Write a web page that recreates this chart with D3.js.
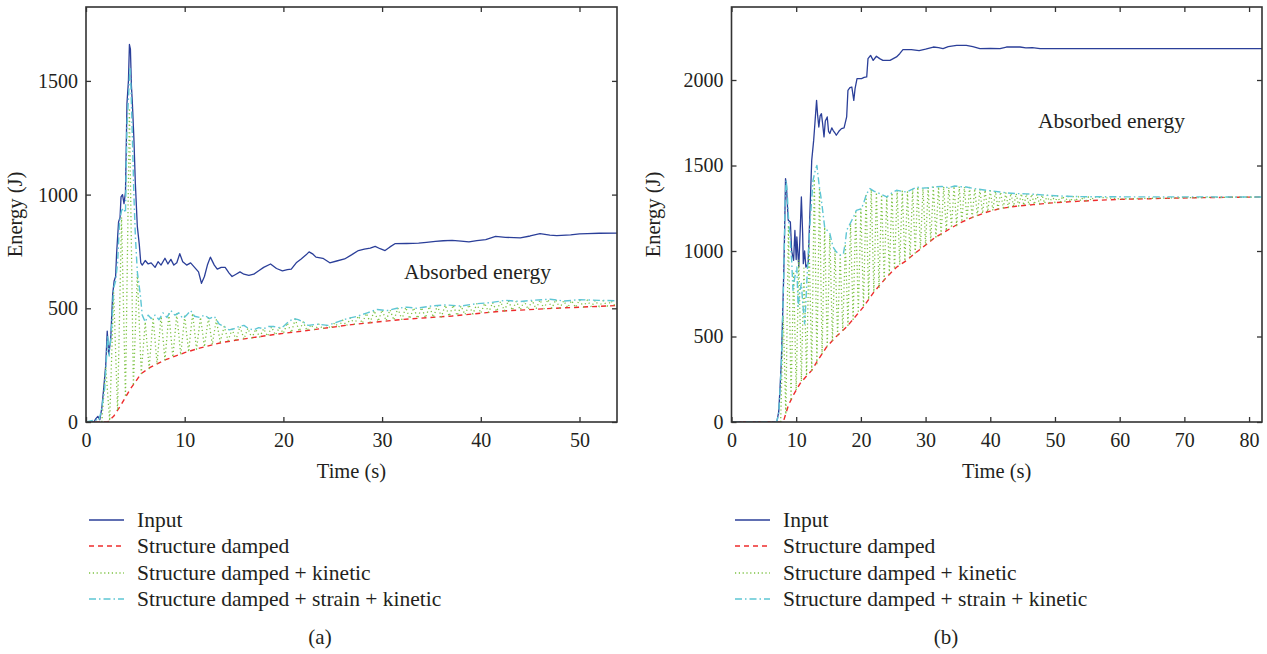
<!DOCTYPE html>
<html><head><meta charset="utf-8">
<script src="https://cdn.jsdelivr.net/npm/d3@7"></script>
<style>
body{margin:0;background:#fff}
svg{display:block}
text{font-family:"Liberation Serif","Times New Roman",serif;fill:#231f20}
</style>
</head><body>
<svg id="chart" width="1267" height="654"></svg>
<script>
// ---------------- DATA ----------------
const seriesNames = ["Input", "Structure damped", "Structure damped + kinetic", "Structure damped + strain + kinetic"];
const panelLabels = ["(a)", "(b)"];
const annotation = "Absorbed energy";
const xTitle = "Time (s)";
const yTitle = "Energy (J)";

const xTicksA = [0, 10, 20, 30, 40, 50];
const yTicksA = [0, 500, 1000, 1500];
const xTicksB = [0, 10, 20, 30, 40, 50, 60, 70, 80];
const yTicksB = [0, 500, 1000, 1500, 2000];
const xMaxA = 53.8, yMaxA = 1825;
const xMaxB = 82, yMaxB = 2427;

// (a) Input energy [time s, energy J]
const inputA = [[0,0],[0.8,0],[1.0,15],[1.2,25],[1.4,10],[1.6,60],[1.8,150],[2.0,250],[2.15,400],[2.3,300],[2.5,360],[2.7,560],[2.85,620],[3.0,640],[3.1,740],[3.3,880],[3.45,900],[3.55,990],[3.7,1000],[3.85,960],[4.0,1010],[4.15,1400],[4.3,1500],[4.4,1660],[4.5,1640],[4.6,1480],[4.7,1400],[4.85,1250],[5.0,1050],[5.2,860],[5.4,780],[5.55,700],[5.7,690],[6.0,710],[6.3,695],[6.6,700],[7.0,680],[7.3,705],[7.6,690],[8.0,720],[8.3,695],[8.6,715],[8.9,690],[9.2,700],[9.5,740],[9.8,705],[10.2,690],[10.6,700],[11.0,680],[11.4,660],[11.7,610],[12.0,640],[12.3,690],[12.6,725],[13.0,690],[13.3,672],[13.7,680],[14.1,680],[14.5,655],[14.8,640],[15.2,650],[15.6,660],[16.0,650],[16.5,645],[17.0,650],[17.5,665],[18.0,680],[18.7,695],[19.3,675],[19.9,665],[20.4,670],[20.8,672],[21.3,700],[21.8,717],[22.3,735],[22.6,748],[23.0,738],[23.3,725],[24.0,720],[24.7,700],[25.4,708],[26.2,717],[26.9,735],[27.6,754],[28.2,760],[28.8,765],[29.3,772],[29.8,762],[30.3,754],[30.8,770],[31.3,784],[32.5,785],[33.7,787],[34.5,790],[35.4,794],[36.2,797],[37.1,799],[38.0,795],[38.8,792],[39.6,798],[40.5,802],[41.5,816],[42.5,812],[44.0,810],[45.0,818],[46.0,828],[47.0,822],[47.7,820],[49.1,823],[50.0,827],[50.8,828],[52.0,830],[53.8,831]];
// (a) Structure damped
const dampedA = [[0,0],[2.2,0],[2.8,25],[3.5,72],[4.5,146],[5.6,213],[6.5,240],[8.0,273],[10.0,305],[11.5,325],[13.8,350],[16.7,370],[20.0,390],[21.8,399],[26.9,428],[32.0,451],[37.1,466],[42.2,488],[47.4,500],[53.8,512]];
// (a) Structure damped + strain + kinetic
const strainA = [[0,0],[1.0,10],[1.3,5],[1.6,60],[1.9,150],[2.1,300],[2.2,380],[2.35,290],[2.6,420],[2.8,590],[3.0,620],[3.2,700],[3.4,880],[3.6,930],[3.8,940],[4.0,920],[4.15,1300],[4.3,1420],[4.45,1560],[4.55,1480],[4.7,1250],[4.85,1000],[5.0,820],[5.2,660],[5.5,560],[5.7,470],[6.0,440],[6.3,470],[6.6,455],[7.0,470],[7.4,450],[7.8,480],[8.2,460],[8.6,490],[9.0,470],[9.4,480],[9.8,455],[10.2,470],[10.6,490],[11.0,465],[11.5,460],[12.0,470],[12.5,455],[13.0,465],[13.5,430],[14.0,420],[14.5,405],[15.0,410],[15.5,420],[16.0,425],[16.5,410],[17.0,405],[17.5,415],[18.0,410],[18.5,420],[19.0,420],[19.5,415],[20.0,420],[20.5,440],[21.0,455],[21.5,450],[22.0,440],[22.5,425],[23.5,430],[24.5,425],[25.5,440],[26.5,455],[27.5,465],[28.5,480],[29.5,495],[30.5,490],[31.5,500],[32.5,505],[33.5,500],[35.0,510],[36.5,515],[38.0,510],[39.5,520],[41.0,525],[42.5,535],[44.0,530],[45.5,536],[47.0,540],[48.5,532],[50.0,538],[52.0,535],[53.8,533]];
// (a) Structure damped + kinetic: samples every kineticStepA s starting at kineticStartA s
const kineticStartA = 1.6, kineticStepA = 0.4;
const kineticA = [0,240,5,570,50,900,110,1380,160,650,213,440,235,460,255,465,273,475,285,475,295,465,308,478,320,460,330,458,340,450,352,420,358,408,361,420,365,412,369,408,373,410,377,418,383,416,390,436,393,452,399,440,402,428,405,430,408,426,412,436,417,448,423,458,430,466,434,478,438,490,442,493,445,493,448,500,451,504,454,502,456,503,458,508,460,512,462,514,465,514,468,510,472,515,475,520,479,522,482,525,486,530,489,534,491,531,493,532,495,535,497,537,498,539,500,538,501,533,503,534,504,537,505,536,506,535,507,534,509,533,511];

// (b) Input energy
const inputB = [[0,0],[7.0,0],[7.3,60],[7.5,197],[7.7,350],[7.9,614],[8.1,906],[8.25,1200],[8.35,1423],[8.5,1380],[8.6,1296],[8.77,1180],[9.1,1170],[9.3,1000],[9.6,946],[9.8,1120],[10.0,950],[10.1,1082],[10.4,906],[10.6,1100],[10.8,1316],[11.0,1100],[11.1,926],[11.3,1000],[11.5,906],[11.85,928],[12.1,1200],[12.4,1530],[12.7,1647],[12.9,1750],[13.15,1881],[13.3,1800],[13.5,1725],[13.7,1790],[13.9,1803],[14.1,1740],[14.3,1667],[14.5,1760],[14.8,1784],[15.0,1700],[15.2,1687],[15.5,1720],[15.7,1706],[16.0,1690],[16.2,1677],[16.6,1700],[17.0,1716],[17.4,1720],[17.8,1784],[18.0,1940],[18.3,1955],[18.6,1959],[18.9,1881],[19.1,1950],[19.4,2008],[20.1,2008],[20.5,2015],[20.9,2018],[21.1,2125],[21.5,2144],[21.9,2115],[22.4,2139],[22.9,2125],[23.4,2115],[24.5,2115],[25.5,2135],[26.0,2154],[26.5,2178],[27.8,2178],[29.0,2172],[30.0,2180],[31.2,2193],[32.0,2190],[32.7,2184],[33.5,2195],[34.8,2203],[36.3,2203],[37.3,2195],[38.4,2184],[40.0,2185],[41.5,2184],[42.5,2193],[44.6,2193],[45.5,2188],[46.5,2190],[47.7,2184],[82,2184]];
// (b) Structure damped
const dampedB = [[0,0],[8.0,0],[8.8,98],[9.6,160],[10.6,225],[11.5,265],[12.4,302],[13.5,370],[14.7,439],[16.2,500],[17.8,556],[19.0,610],[20.4,673],[22.0,760],[24.0,848],[25.5,905],[27.1,946],[28.3,985],[29.6,1023],[31.5,1080],[33.8,1131],[35.5,1168],[37.4,1199],[39.5,1228],[41.5,1248],[44.0,1262],[46.6,1271],[49.0,1280],[51.8,1287],[54.0,1292],[56.9,1297],[60.0,1302],[64.7,1306],[68.0,1309],[72.4,1312],[77.0,1314],[82,1316]];
// (b) Structure damped + strain + kinetic
const strainB = [[0,0],[7.0,0],[7.3,50],[7.5,190],[7.7,340],[7.9,600],[8.1,880],[8.3,1300],[8.45,1413],[8.6,1350],[8.8,1200],[9.0,1103],[9.3,946],[9.5,770],[9.8,850],[10.1,906],[10.3,672],[10.55,760],[10.8,810],[11.0,700],[11.3,575],[11.5,700],[11.7,868],[12.1,1140],[12.6,1413],[13.0,1480],[13.2,1500],[13.55,1384],[13.9,1296],[14.4,1140],[14.8,1120],[15.2,1103],[15.7,1023],[16.1,1000],[16.5,985],[16.9,975],[17.3,985],[17.6,1050],[17.8,1121],[18.2,1150],[18.6,1180],[19.0,1210],[19.3,1238],[20.1,1248],[20.5,1290],[20.9,1336],[21.4,1365],[22.0,1350],[22.4,1345],[23.2,1330],[24.0,1316],[24.8,1340],[25.5,1355],[26.3,1350],[27.1,1345],[27.9,1360],[28.6,1374],[29.5,1368],[30.3,1370],[31.2,1374],[32.5,1378],[33.5,1370],[34.5,1380],[35.5,1376],[36.3,1374],[37.5,1365],[38.5,1360],[39.5,1355],[40.5,1350],[41.5,1345],[42.5,1340],[44.0,1336],[45.5,1334],[46.6,1332],[48.0,1328],[50.0,1323],[51.8,1320],[54.0,1318],[57.0,1317],[82,1316]];
// (b) Structure damped + kinetic: samples every kineticStepB s starting at kineticStartB s, then a settled tail
const kineticStartB = 7.6, kineticStepB = 0.4;
const kineticB = [0,620,45,1150,125,880,185,950,238,900,270,1050,302,1420,340,1370,397,1140,444,1095,475,1000,508,975,535,1040,565,1160,600,1225,637,1245,673,1325,717,1360,760,1343,782,1330,830,1316,866,1340,895,1355,920,1350,940,1346,962,1362,988,1374,1012,1368,1035,1370,1060,1374,1082,1376,1095,1377,1118,1371,1135,1379,1148,1377,1170,1375,1182,1372,1196,1365,1206,1361,1218,1356,1229,1353,1237,1349,1245,1345,1251,1340,1254,1338,1260,1336,1263,1335,1266,1334,1269,1332,1272,1331,1274,1328,1278,1326,1281,1324,1283,1322,1285,1321,1287,1320,1289,1319,1290,1319,1292,1318,1294,1317,1295,1317];
const kineticTailB = [[60,1305],[70,1312],[82,1316]];

// ---------------- STYLE / LAYOUT ----------------
const colors = ["#2b3f99", "#ee2c2c", "#7cc242", "#5ec6d4"];
const dashes = [null, "5,4", "1.2,2.6", "7,3,1.5,3"];
const widths = [1.3, 1.4, 1.3, 1.4];

const svg = d3.select("#chart");

function kineticPoints(start, step, vals, tail) {
  const pts = vals.map((v, i) => [start + i * step, v]);
  return tail ? pts.concat(tail) : pts;
}

const panels = [
  { id: "a", left: 86, right: 617, top: 7, bottom: 422, xMax: xMaxA, yMax: yMaxA, xTicks: xTicksA, yTicks: yTicksA,
    series: [inputA, dampedA, kineticPoints(kineticStartA, kineticStepA, kineticA), strainA],
    ann: [404, 279], legendLine: [89, 124], legendText: 137, label: panelLabels[0], labelX: 320, yTitleX: 22 },
  { id: "b", left: 731.5, right: 1262, top: 7, bottom: 422, xMax: xMaxB, yMax: yMaxB, xTicks: xTicksB, yTicks: yTicksB,
    series: [inputB, dampedB, kineticPoints(kineticStartB, kineticStepB, kineticB, kineticTailB), strainB],
    ann: [1038, 128], legendLine: [735, 770], legendText: 783, label: panelLabels[1], labelX: 946, yTitleX: 660 }
];

panels.forEach(p => {
  const x = d3.scaleLinear().domain([0, p.xMax]).range([p.left, p.right]);
  const y = d3.scaleLinear().domain([0, p.yMax]).range([p.bottom, p.top]);
  const g = svg.append("g");

  g.append("clipPath").attr("id", "clip-" + p.id)
    .append("rect").attr("x", p.left).attr("y", p.top)
    .attr("width", p.right - p.left).attr("height", p.bottom - p.top);

  const line = d3.line().x(d => x(d[0])).y(d => y(d[1]));
  const plot = g.append("g").attr("clip-path", "url(#clip-" + p.id + ")");
  p.series.forEach((s, i) => {
    plot.append("path").datum(s)
      .attr("d", line)
      .attr("fill", "none")
      .attr("stroke", colors[i])
      .attr("stroke-width", widths[i])
      .attr("stroke-dasharray", dashes[i])
      .attr("stroke-linejoin", "round");
  });

  // axes (ticks point inward, mirrored on all sides)
  const tickStyle = sel => {
    sel.select(".domain").remove();
    sel.selectAll(".tick line").attr("stroke", "#333").attr("stroke-width", 1.3);
    sel.selectAll(".tick text").style("font-size", "20px").attr("fill", "#231f20");
  };
  g.append("g").attr("transform", `translate(0,${p.bottom})`)
    .call(d3.axisBottom(x).tickValues(p.xTicks).tickSize(-5).tickPadding(11).tickFormat(d3.format("d")))
    .call(tickStyle);
  g.append("g").attr("transform", `translate(0,${p.top})`)
    .call(d3.axisTop(x).tickValues(p.xTicks).tickSize(-5).tickFormat(""))
    .call(tickStyle);
  g.append("g").attr("transform", `translate(${p.left},0)`)
    .call(d3.axisLeft(y).tickValues(p.yTicks).tickSize(-5).tickPadding(8).tickFormat(d3.format("d")))
    .call(tickStyle);
  g.append("g").attr("transform", `translate(${p.right},0)`)
    .call(d3.axisRight(y).tickValues(p.yTicks).tickSize(-5).tickFormat(""))
    .call(tickStyle);

  g.append("rect").attr("x", p.left).attr("y", p.top)
    .attr("width", p.right - p.left).attr("height", p.bottom - p.top)
    .attr("fill", "none").attr("stroke", "#333").attr("stroke-width", 1.6);

  // titles
  g.append("text").attr("x", (p.left + p.right) / 2).attr("y", 478)
    .attr("text-anchor", "middle").style("font-size", "20.5px").text(xTitle);
  g.append("text").attr("transform", `translate(${p.yTitleX},${(p.top + p.bottom) / 2}) rotate(-90)`)
    .attr("text-anchor", "middle").style("font-size", "20.5px").text(yTitle);
  g.append("text").attr("x", p.ann[0]).attr("y", p.ann[1])
    .style("font-size", "21.5px").text(annotation);

  // legend
  const rows = [520, 546, 573, 599];
  seriesNames.forEach((name, i) => {
    g.append("line").attr("x1", p.legendLine[0]).attr("x2", p.legendLine[1])
      .attr("y1", rows[i]).attr("y2", rows[i])
      .attr("stroke", colors[i]).attr("stroke-width", widths[i])
      .attr("stroke-dasharray", dashes[i]);
    g.append("text").attr("x", p.legendText).attr("y", rows[i] + 7)
      .style("font-size", "21.5px").text(name);
  });
  g.append("text").attr("x", p.labelX).attr("y", 644)
    .attr("text-anchor", "middle").style("font-size", "21px").text(p.label);
});
</script>
</body></html>
